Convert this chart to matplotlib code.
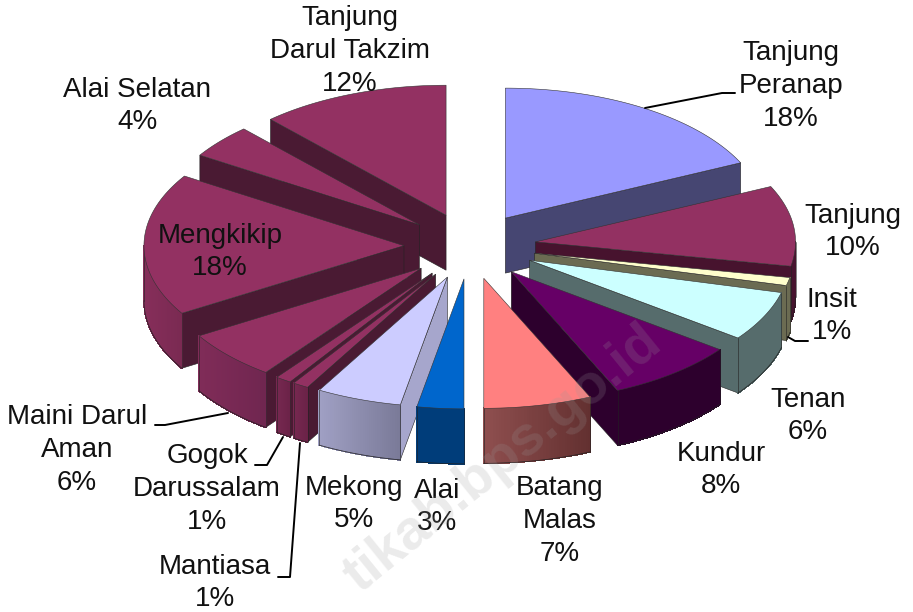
import numpy as np
import matplotlib
matplotlib.use("Agg")
import matplotlib.pyplot as plt
from matplotlib.collections import PolyCollection
from matplotlib.colors import to_rgb
from matplotlib.patches import Polygon

plt.rcParams["font.family"] = ["Liberation Sans", "DejaVu Sans"]

# clockwise from 12 o'clock, shares read from the slice corners
names = ["Tanjung Peranap", "Tanjung", "Insit", "Tenan", "Kundur", "Batang Malas", "Alai",
         "Mekong", "Mantiasa", "Gogok Darussalam", "Maini Darul Aman", "Mengkikip",
         "Alai Selatan", "Tanjung Darul Takzim"]
values = [18, 10, 1, 6.2, 8.1, 6.7, 2.9, 5.3, 1, 1, 6.1, 17.7, 4.2, 11.8]

top_colors = ["#9999ff", "#933162", "#ffffcc", "#ccffff", "#660066", "#ff8080", "#0066cc",
              "#ccccff", "#933162", "#933162", "#933162", "#933162", "#933162", "#933162"]
face_colors = ["#464672", "#47132e", "#6b6b52", "#566c6c", "#2d002d", "#663030", "#003d7a",
               "#a6a6cc", "#4a1a33", "#4a1a33", "#4a1a33", "#4a1a33", "#4a1a33", "#4a1a33"]
rim_left = ["#464672", "#47132e", "#6b6b52", "#566c6c", "#2d002d", "#8f4f4f", "#003d7a",
            "#a0a0c4", "#762850", "#762850", "#802c58", "#862e5a", "#762850", "#762850"]
rim_right = ["#464672", "#47132e", "#6b6b52", "#566c6c", "#2d002d", "#633030", "#003d7a",
             "#7a7a98", "#6a2247", "#6a2247", "#702650", "#7a2a52", "#762850", "#762850"]

# label text, centre x, centre y
label_text = ["Tanjung\nPeranap\n18%", "Tanjung\n10%", "Insit\n1%", "Tenan\n6%", "Kundur\n8%",
              "Batang\nMalas\n7%", "Alai\n3%", "Mekong\n5%", "Mantiasa\n1%",
              "Gogok\nDarussalam\n1%", "Maini Darul\nAman\n6%", "Mengkikip\n18%",
              "Alai Selatan\n4%", "Tanjung\nDarul Takzim\n12%"]
label_x = [791, 853, 832, 808, 721, 560, 437, 354, 215, 207, 77, 220, 137, 350]
label_y = [86, 232, 316, 416, 470, 521, 507, 504, 583, 489, 450, 252, 106, 51]

# leader lines
leaders = [([645, 722, 735], [108, 93, 93]),
           ([788, 795, 808], [337, 341, 341]),
           ([228, 165, 155], [413, 425, 425]),
           ([283, 267, 255], [437, 465, 465]),
           ([300, 290, 278], [443, 577, 577])]

cx, cy = 470, 246
rx, ry = 260, 130
explode = 0.254
depth = 55


def pos(theta, ox, oy):
    return ox + rx * np.sin(theta), oy - ry * np.cos(theta)


fig = plt.figure(figsize=(9.13, 6.12), dpi=100)
ax = fig.add_axes([0, 0, 1, 1])
ax.set_xlim(0, 913)
ax.set_ylim(612, 0)
ax.axis("off")

edges = np.cumsum([0] + values) / sum(values) * 2 * np.pi
mids = (edges[:-1] + edges[1:]) / 2

# back slices first, so the nearer ones paint over them
z = 1
for i in np.argsort(-np.cos(mids)):
    a0, a1 = edges[i], edges[i + 1]
    ox = cx + explode * rx * np.sin(mids[i])
    oy = cy - explode * ry * np.cos(mids[i])

    # cut faces
    for theta, show in ((a0, np.sin(a0) < -1e-6), (a1, np.sin(a1) > 1e-6)):
        if show:
            x, y = pos(theta, ox, oy)
            ax.add_patch(Polygon([(ox, oy), (x, y), (x, y + depth), (ox, oy + depth)],
                                 fc=face_colors[i], ec="#222222", lw=0.4, zorder=z))

    # outer rim, only the part facing us
    r0, r1 = max(a0, np.pi / 2), min(a1, 3 * np.pi / 2)
    if r1 > r0:
        t = np.linspace(r0, r1, 40)
        x, y = pos(t, ox, oy)
        c_left, c_right = np.array(to_rgb(rim_left[i])), np.array(to_rgb(rim_right[i]))
        quads, cols = [], []
        for k in range(len(t) - 1):
            quads.append([(x[k], y[k]), (x[k + 1], y[k + 1]),
                          (x[k + 1], y[k + 1] + depth), (x[k], y[k] + depth)])
            f = (x[k] - x.min()) / max(x.max() - x.min(), 1)
            cols.append(c_left + (c_right - c_left) * f)
        ax.add_collection(PolyCollection(quads, facecolors=cols, edgecolors=cols, linewidths=0.5,
                                         antialiaseds=False, zorder=z))
        ax.plot(x, y + depth, c="#222222", lw=0.5, zorder=z)
        ax.plot([x[0], x[0]], [y[0], y[0] + depth], c="#222222", lw=0.4, zorder=z)
        ax.plot([x[-1], x[-1]], [y[-1], y[-1] + depth], c="#222222", lw=0.4, zorder=z)

    # top surface
    t = np.linspace(a0, a1, 60)
    x, y = pos(t, ox, oy)
    ax.add_patch(Polygon(np.c_[np.r_[ox, x], np.r_[oy, y]], closed=True,
                         fc=top_colors[i], ec="#333333", lw=0.4, zorder=z))
    z += 1

for lx, ly in leaders:
    ax.plot(lx, ly, c="black", lw=1.4, solid_capstyle="round", zorder=z)

for text, x, y in zip(label_text, label_x, label_y):
    ax.text(x, y, text, ha="center", va="center", fontsize=20, color="#111111",
            linespacing=1.33, zorder=z + 1)

ax.text(503, 460, "tikab.bps.go.id", rotation=39, rotation_mode="anchor", ha="center", va="center",
        fontsize=40, fontweight="bold", color="#999999", alpha=0.2, zorder=z + 2)

plt.savefig("out.png", dpi=100)
